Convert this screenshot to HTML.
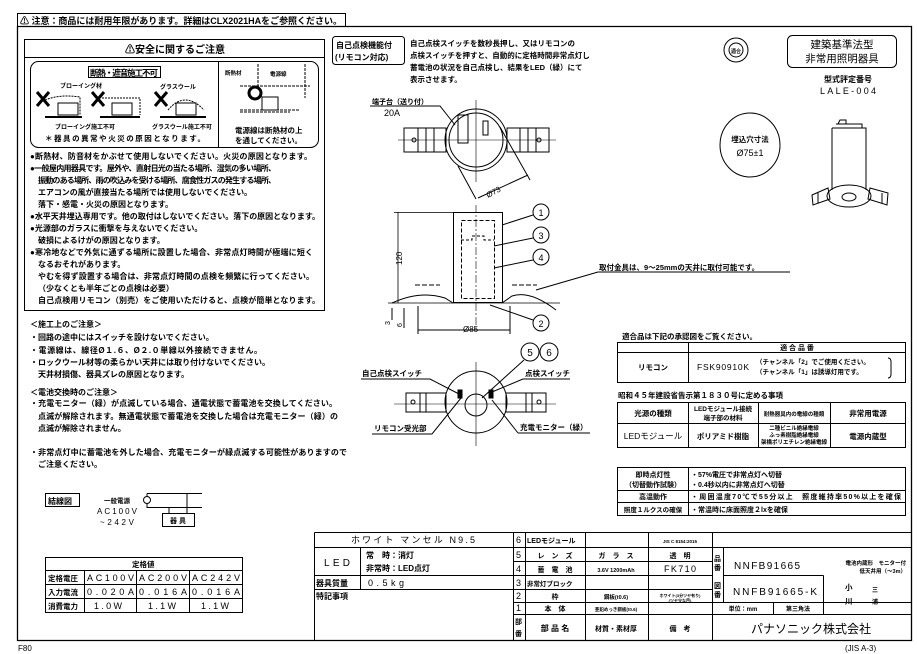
<!DOCTYPE html>
<html><head><meta charset="utf-8"><style>
html,body{margin:0;padding:0;background:#fff;width:917px;height:654px;overflow:hidden}
svg{display:block}
text{font-family:"Liberation Sans","Noto Sans CJK JP",sans-serif;fill:#000;font-weight:bold}
.n{font-weight:normal}
</style></head><body>
<svg width="917" height="654" viewBox="0 0 917 654" xmlns="http://www.w3.org/2000/svg" fill="none" stroke="#000" stroke-width="1">
<!-- frame -->
<rect x="17.5" y="13.5" width="328" height="13"/>
<path d="M17.5 26.5 H911.5 V640.5 H17.5 Z" stroke-width="1.3"/>
<text x="20" y="24" font-size="9" stroke="none" textLength="322">⚠ 注意：商品には耐用年限があります。詳細はCLX2021HAをご参照ください。</text>

<!-- safety box -->
<rect x="24.5" y="39.5" width="300" height="271"/>
<line x1="24.5" y1="57.5" x2="324.5" y2="57.5"/>
<text x="125" y="53" font-size="10" stroke="none">⚠安全に関するご注意</text>
<rect x="30.5" y="61.5" width="288" height="86" rx="8"/>
<line x1="218.5" y1="61.5" x2="218.5" y2="147.5"/>
<rect x="88.5" y="66.5" width="72" height="11" fill="#fff"/>
<text x="90" y="76" font-size="8.5" stroke="none" textLength="68">断熱・遮音施工不可</text>
<text x="60" y="88" font-size="6" stroke="none">ブローイング材</text>
<text x="160" y="89" font-size="6" stroke="none">グラスウール</text>
<g stroke-width="3"><path d="M37 92 L49 106 M49 92 L37 106"/><path d="M92 92 L104 106 M104 92 L92 106"/><path d="M155 92 L167 106 M167 92 L155 106"/></g>
<rect x="58" y="103" width="20" height="12"/><rect x="112" y="103" width="20" height="12"/><rect x="176" y="103" width="20" height="12"/>
<path d="M45 100 Q60 94 80 97 L80 115 M102 98 H140 V115 M168 110 Q185 90 204 110" stroke-dasharray="2 1"/>
<line x1="45" y1="117" x2="82" y2="117" stroke-width="2"/><line x1="100" y1="117" x2="140" y2="117" stroke-width="2"/><line x1="160" y1="117" x2="206" y2="117" stroke-width="2"/>
<text x="55" y="129" font-size="6" stroke="none">ブローイング施工不可</text>
<text x="152" y="129" font-size="6" stroke="none">グラスウール施工不可</text>
<text x="45" y="141" font-size="7.5" stroke="none" textLength="160">＊器具の異常や火災の原因となります。</text>
<text x="225" y="75" font-size="5.5" stroke="none">断熱材</text><text x="270" y="76" font-size="5.5" stroke="none">電源線</text>
<circle cx="255" cy="93" r="6" stroke-width="3"/>
<rect x="262" y="97" width="16" height="13"/>
<path d="M240 86 H310 M240 110 H300 M305 64 V98 M258 64 V86 M240 112 H290" stroke-dasharray="3 1"/>
<text x="235" y="133" font-size="7.5" stroke="none">電源線は断熱材の上</text>
<text x="235" y="143" font-size="7.5" stroke="none">を通してください。</text>
<g font-size="8" stroke="none">
<text x="30" y="159" textLength="282">●断熱材、防音材をかぶせて使用しないでください。火災の原因となります。</text>
<text x="30" y="171" textLength="246">●一般屋内用器具です。屋外や、直射日光の当たる場所、湿気の多い場所、</text>
<text x="38" y="183" textLength="238">振動のある場所、雨の吹込みを受ける場所、腐食性ガスの発生する場所、</text>
<text x="38" y="195" textLength="214">エアコンの風が直接当たる場所では使用しないでください。</text>
<text x="38" y="207">落下・感電・火災の原因となります。</text>
<text x="30" y="219" textLength="290">●水平天井埋込専用です。他の取付はしないでください。落下の原因となります。</text>
<text x="30" y="231">●光源部のガラスに衝撃を与えないでください。</text>
<text x="38" y="243">破損によるけがの原因となります。</text>
<text x="30" y="255" textLength="283">●寒冷地などで外気に通ずる場所に設置した場合、非常点灯時間が極端に短く</text>
<text x="38" y="267">なるおそれがあります。</text>
<text x="38" y="279" textLength="276">やむを得ず設置する場合は、非常点灯時間の点検を頻繁に行ってください。</text>
<text x="38" y="291">（少なくとも半年ごとの点検は必要）</text>
<text x="38" y="303" textLength="282">自己点検用リモコン（別売）をご使用いただけると、点検が簡単となります。</text>
</g>
<!-- construction notes -->
<g font-size="8" stroke="none">
<text x="30" y="327">＜施工上のご注意＞</text>
<text x="30" y="340">・回路の途中にはスイッチを設けないでください。</text>
<text x="30" y="353" textLength="232">・電源線は、線径Ø１.６、Ø２.０単線以外接続できません。</text>
<text x="30" y="365" textLength="240">・ロックウール材等の柔らかい天井には取り付けないでください。</text>
<text x="38" y="377">天井材損傷、器具ズレの原因となります。</text>
<text x="30" y="395">＜電池交換時のご注意＞</text>
<text x="30" y="406" textLength="307">・充電モニター（緑）が点滅している場合、通電状態で蓄電池を交換してください。</text>
<text x="38" y="419" textLength="300">点滅が解除されます。無通電状態で蓄電池を交換した場合は充電モニター（緑）の</text>
<text x="38" y="431">点滅が解除されません。</text>
<text x="30" y="455" textLength="317">・非常点灯中に蓄電池を外した場合、充電モニターが緑点滅する可能性がありますので</text>
<text x="38" y="467">ご注意ください。</text>
</g>
<!-- wiring -->
<rect x="45.5" y="493.5" width="34" height="13"/>
<text x="48" y="504" font-size="8" stroke="none">結線図</text>
<text x="104" y="503" font-size="6.5" stroke="none">一般電源</text>
<text x="97" y="514" font-size="8" stroke="none" class="n" textLength="40">AC100V</text>
<text x="100" y="525" font-size="8" stroke="none" class="n" textLength="34">~242V</text>
<circle cx="147" cy="500" r="3.5"/>
<path d="M147 493.5 H202 M147 497 V493.5 M147 503 V507.5 H202 M187 493.5 V513 M169 507.5 V513"/>
<rect x="162.5" y="513.5" width="32" height="13"/>
<text x="170" y="523" font-size="7" stroke="none">器 具</text>
<!-- rated table -->
<rect x="45.5" y="557.5" width="197" height="55"/>
<path d="M45.5 570.5 H242.5 M45.5 584.5 H242.5 M45.5 598.5 H242.5 M84.5 570.5 V612.5 M136.5 570.5 V612.5 M189.5 570.5 V612.5"/>
<g font-size="7.5" stroke="none"><text x="132" y="567">定格値</text>
<text x="48" y="581">定格電圧</text><text x="48" y="595">入力電流</text><text x="48" y="609">消費電力</text></g>
<g font-size="9" stroke="none" class="n">
<text x="87" y="581" class="n" textLength="47">AC100V</text><text x="139" y="581" class="n" textLength="48">AC200V</text><text x="192" y="581" class="n" textLength="48">AC242V</text>
<text x="87" y="595" class="n" textLength="47">0.020A</text><text x="139" y="595" class="n" textLength="48">0.016A</text><text x="192" y="595" class="n" textLength="48">0.016A</text>
<text x="94" y="609" class="n" textLength="28">1.0W</text><text x="148" y="609" class="n" textLength="28">1.1W</text><text x="201" y="609" class="n" textLength="28">1.1W</text></g>

<!-- self-check box -->
<rect x="332.5" y="36.5" width="72" height="28" rx="3"/>
<text x="336" y="48" font-size="8" stroke="none">自己点検機能付</text>
<text x="335" y="60" font-size="8" stroke="none">(リモコン対応)</text>
<g font-size="7.5" stroke="none">
<text x="410" y="46">自己点検スイッチを数秒長押し、又はリモコンの</text>
<text x="410" y="58">点検スイッチを押すと、自動的に定格時間非常点灯し</text>
<text x="410" y="70">蓄電池の状況を自己点検し、結果をLED（緑）にて</text>
<text x="410" y="82">表示させます。</text></g>
<circle cx="736" cy="50" r="12"/><circle cx="736" cy="50" r="7"/>
<text x="731" y="53" font-size="5" stroke="none">適合</text>
<rect x="787.5" y="35.5" width="109" height="32" rx="5"/>
<text x="842" y="48" font-size="10.5" stroke="none" text-anchor="middle" class="n">建築基準法型</text>
<text x="842" y="62" font-size="10.5" stroke="none" text-anchor="middle" class="n">非常用照明器具</text>
<text x="848" y="82" font-size="8" stroke="none" text-anchor="middle">型式評定番号</text>
<text x="848" y="94" font-size="9" stroke="none" text-anchor="middle" class="n" textLength="56">LALE-004</text>
<ellipse cx="750" cy="145" rx="30" ry="32"/>
<text x="750" y="142" font-size="7.5" stroke="none" text-anchor="middle">埋込穴寸法</text>
<text x="750" y="156" font-size="9" stroke="none" text-anchor="middle" class="n">Ø75±1</text>
<!-- product sketch -->
<path d="M832 128 H866 V190 M832 128 V190 M836 124 H862 V128 M838 124 L840 120 H846 V124"/>
<ellipse cx="849" cy="196" rx="22" ry="11"/><ellipse cx="849" cy="197" rx="7" ry="4"/>
<path d="M812 195 L828 188 L830 199 L813 205 Z M870 188 L888 193 L887 205 L868 199 Z M818 193 V203 M882 193 V203"/>

<!-- top view -->
<text x="372" y="104" font-size="7" stroke="none">端子台（送り付）</text>
<text x="384" y="116" font-size="9" stroke="none" class="n">20A</text>
<path d="M370 106 H440 L455 125"/>
<circle cx="476" cy="140" r="31"/><circle cx="476" cy="140" r="27"/>
<path d="M404 128 H446 V152 H404 Z M507 128 H549 V152 H507 Z M418 128 V152 M426 128 V152 M434 128 V152 M520 128 V152 M528 128 V152 M536 128 V152"/>
<circle cx="414" cy="140" r="2"/><circle cx="539" cy="140" r="2"/>
<path d="M398 140 H556 M476 100 V182" stroke-width="0.6"/>
<rect x="458" y="115" width="10" height="28"/><rect x="483" y="121" width="5" height="14"/>
<path d="M458 166 L476 199 M500 127 L530 180 M478 198 L528 175"/>
<text x="488" y="198" font-size="8" stroke="none" class="n" transform="rotate(-28 488 198)">Ø73</text>

<!-- side view -->
<rect x="453.5" y="212.5" width="49" height="90"/>
<rect x="461.5" y="220.5" width="33" height="78" stroke-dasharray="4 2"/>
<path d="M461 240 H472 V236 H484 V240 H494" stroke-dasharray="3 2"/>
<path d="M476 205 V330" stroke-width="0.6" stroke-dasharray="8 2 2 2"/>
<path d="M394 212.5 H453 M394 303 H530 M398 212 V303 M388 303 H560" stroke-width="0.8"/>
<path d="M392 303 Q420 290 445 298 L453 303 M502 303 L512 296 Q530 290 556 310" />
<path d="M415 285 H440 M512 285 H537" stroke-dasharray="5 2"/>
<text x="402" y="265" font-size="8" stroke="none" class="n" transform="rotate(-90 402 265)">120</text>
<path d="M392 308 V320 M404 308 V328 M418 306 V334 M510 306 V334 M418 330 H510"/>
<text x="390" y="325" font-size="7" stroke="none" class="n" transform="rotate(-90 390 325)">3</text>
<text x="402" y="327" font-size="7" stroke="none" class="n" transform="rotate(-90 402 327)">6</text>
<text x="463" y="332" font-size="8" stroke="none" class="n">Ø85</text>
<g><circle cx="541" cy="212" r="8"/><circle cx="541" cy="235" r="8"/><circle cx="541" cy="257" r="8"/><circle cx="541" cy="323" r="8"/></g>
<g font-size="9" stroke="none" text-anchor="middle" class="n"><text x="541" y="216" class="n">1</text><text x="541" y="239" class="n">3</text><text x="541" y="261" class="n">4</text><text x="541" y="327" class="n">2</text></g>
<path d="M533 215 L502 225 M533 238 L494 246 M533 260 L494 268 M533 320 L490 305"/>
<text x="599" y="270" font-size="7.5" stroke="none">取付金具は、9～25mmの天井に取付可能です。</text>
<path d="M598 272 H790 M598 272 L536 290"/>

<!-- bottom view -->
<circle cx="476" cy="402" r="31"/><circle cx="476" cy="405" r="11"/>
<path d="M406 393 H446 V412 H406 Z M506 393 H546 V412 H506 Z M420 393 V412 M426 393 V412 M526 393 V412 M532 393 V412"/>
<circle cx="413" cy="402" r="2"/><circle cx="539" cy="402" r="2"/>
<path d="M394 404 H556 M476 362 V446" stroke-width="0.6"/>
<rect x="458" y="390" width="4" height="8" fill="#000"/><rect x="489" y="390" width="4" height="8" fill="#000"/>
<circle cx="530" cy="352" r="9"/><circle cx="549" cy="352" r="9"/>
<text x="530" y="356" font-size="10" stroke="none" text-anchor="middle" class="n">5</text>
<text x="549" y="356" font-size="10" stroke="none" text-anchor="middle" class="n">6</text>
<path d="M524 360 L482 398"/>
<text x="362" y="376" font-size="7.5" stroke="none">自己点検スイッチ</text>
<path d="M361 379 H430 L459 394"/>
<text x="525" y="376" font-size="7.5" stroke="none">点検スイッチ</text>
<path d="M523 379 H570 M523 379 L492 392"/>
<text x="374" y="431" font-size="7.5" stroke="none">リモコン受光部</text>
<path d="M372 434 H432 L461 398"/>
<text x="520" y="430" font-size="7.5" stroke="none">充電モニター（緑）</text>
<path d="M518 433 H590 M518 433 L492 400"/>

<!-- right tables -->
<text x="622" y="339" font-size="7.5" stroke="none">適合品は下記の承認図をご覧ください。</text>
<rect x="617.5" y="342.5" width="288" height="40"/>
<path d="M617.5 352.5 H905.5 M688.5 342.5 V382.5"/>
<text x="797" y="350" font-size="7" stroke="none" text-anchor="middle">適 合 品 番</text>
<text x="638" y="370" font-size="7.5" stroke="none">リモコン</text>
<text x="697" y="370" font-size="8.5" stroke="none" class="n" textLength="52">FSK90910K</text>
<text x="756" y="364" font-size="6.5" stroke="none">（チャンネル「2」でご使用ください。</text>
<text x="756" y="374" font-size="6.5" stroke="none">（チャンネル「1」は誘導灯用です。</text>
<path d="M888 358 Q891 358 891 362 V374 Q891 378 888 378"/>
<text x="618" y="398" font-size="7.5" stroke="none">昭和４５年建設省告示第１８３０号に定める事項</text>
<rect x="617.5" y="402.5" width="288" height="45"/>
<path d="M617.5 423.5 H905.5 M688.5 402.5 V447.5 M758.5 402.5 V447.5 M830.5 402.5 V447.5"/>
<g font-size="7.5" stroke="none" text-anchor="middle">
<text x="653" y="416">光源の種類</text><text x="723" y="411" font-size="6.5">LEDモジュール接続</text><text x="723" y="420" font-size="6.5">端子部の材料</text>
<text x="794" y="416" font-size="5.5">耐熱器具内の電線の種類</text><text x="868" y="416">非常用電源</text>
<text x="653" y="439" class="n" font-size="8.5">LEDモジュール</text><text x="723" y="439">ポリアミド樹脂</text>
<text x="794" y="430" font-size="5.5">二種ビニル絶縁電線</text><text x="794" y="437" font-size="5.5">ふっ素樹脂絶縁電線</text><text x="794" y="444" font-size="5.5">架橋ポリエチレン絶縁電線</text>
<text x="868" y="439">電源内蔵型</text></g>
<rect x="617.5" y="467.5" width="288" height="48"/>
<path d="M617.5 490.5 H905.5 M617.5 502.5 H905.5 M688.5 467.5 V515.5"/>
<g font-size="7" stroke="none">
<text x="653" y="477" text-anchor="middle">即時点灯性</text><text x="653" y="487" text-anchor="middle">（切替動作試験）</text>
<text x="691" y="477">・57%電圧で非常点灯へ切替</text><text x="691" y="487">・0.4秒以内に非常点灯へ切替</text>
<text x="653" y="499" text-anchor="middle">高温動作</text><text x="691" y="499" textLength="210">・周囲温度70℃で55分以上　照度維持率50%以上を確保</text>
<text x="653" y="512" text-anchor="middle" font-size="6.5">照度１ルクスの確保</text><text x="691" y="512">・常温時に床面照度２lxを確保</text></g>

<!-- title block -->
<path d="M314.5 532.5 H911.5 M314.5 532.5 V640.5"/>
<path d="M314.5 547.5 H712.5 M314.5 575.5 H513.5 M314.5 589.5 H513.5 M513.5 561.5 H712.5 M513.5 575.5 H712.5 M513.5 589.5 H712.5 M513.5 602.5 H712.5 M513.5 614.5 H911.5 M712.5 547.5 H911.5 M712.5 602.5 H911.5 M723.5 575.5 H823.5"/>
<path d="M360.5 547.5 V589.5 M513.5 532.5 V640.5 M525.5 532.5 V640.5 M585.5 532.5 V640.5 M648.5 532.5 V640.5 M712.5 532.5 V640.5 M723.5 547.5 V602.5 M823.5 575.5 V614.5 M773.5 602.5 V614.5"/>
<g font-size="8" stroke="none">
<text x="413" y="543" text-anchor="middle" class="n" font-size="9" textLength="124">ホワイト マンセル N9.5</text>
<text x="337" y="566" text-anchor="middle" class="n" font-size="10" textLength="26">LED</text>
<text x="366" y="558">常　時：消灯</text><text x="366" y="571">非常時：LED点灯</text>
<text x="316" y="586">器具質量</text><text x="368" y="586" class="n" font-size="9" textLength="36">0.5kg</text>
<text x="316" y="599">特記事項</text>
<g class="n" font-size="9"><text x="516" y="543" class="n">6</text><text x="516" y="558" class="n">5</text><text x="516" y="572" class="n">4</text><text x="516" y="586" class="n">3</text><text x="516" y="599" class="n">2</text><text x="516" y="611" class="n">1</text></g>
<text x="515" y="624" font-size="7">部</text><text x="515" y="636" font-size="7">番</text>
<text x="527" y="543" font-size="7">LEDモジュール</text>
<text x="555" y="558" text-anchor="middle" font-size="7">レ　ン　ズ</text>
<text x="555" y="572" text-anchor="middle" font-size="7">蓄　電　池</text>
<text x="527" y="586" font-size="6.5">非常灯ブロック</text>
<text x="555" y="599" text-anchor="middle" font-size="7">枠</text>
<text x="555" y="611" text-anchor="middle" font-size="7">本　体</text>
<text x="555" y="631" text-anchor="middle">部 品 名</text>
<text x="616" y="558" text-anchor="middle" font-size="7">ガ　ラ　ス</text>
<text x="616" y="572" text-anchor="middle" font-size="5.5">3.6V 1200mAh</text>
<text x="616" y="599" text-anchor="middle" font-size="5.5">鋼板(t0.6)</text>
<text x="616" y="611" text-anchor="middle" font-size="4.5">亜鉛めっき鋼板(t0.6)</text>
<text x="616" y="631" text-anchor="middle" font-size="7">材質・素材厚</text>
<text x="680" y="543" text-anchor="middle" font-size="4.5">JIS C 8154:2015</text>
<text x="680" y="558" text-anchor="middle" font-size="7">透　明</text>
<text x="680" y="572" text-anchor="middle" class="n" font-size="9" textLength="32">FK710</text>
<text x="680" y="597" text-anchor="middle" font-size="4">ホワイト(3分ツヤ有り)</text>
<text x="680" y="602" text-anchor="middle" font-size="4">(ツヤ少な目)</text>
<text x="680" y="631" text-anchor="middle" font-size="7">備　考</text>
<text x="714" y="561" font-size="7">品</text><text x="714" y="570" font-size="7">番</text>
<text x="714" y="588" font-size="7">図</text><text x="714" y="597" font-size="7">番</text>
<text x="734" y="569" class="n" font-size="10" textLength="66">NNFB91665</text>
<text x="906" y="565" text-anchor="end" font-size="5.5">電池内蔵形　モニター付</text>
<text x="906" y="573" text-anchor="end" font-size="5.5">低天井用（～3m）</text>
<text x="733" y="595" class="n" font-size="10" textLength="84">NNFB91665-K</text>
<text x="845" y="590" font-size="7.5">小</text><text x="872" y="592" font-size="6">三</text>
<text x="845" y="604" font-size="7.5">川</text><text x="872" y="604" font-size="6">浦</text>
<text x="743" y="611" text-anchor="middle" font-size="6">単位：mm</text>
<text x="798" y="611" text-anchor="middle" font-size="6">第三角法</text>
<text x="811" y="633" text-anchor="middle" class="n" font-size="12">パナソニック株式会社</text>
</g>
<text x="18" y="651" font-size="8" stroke="none" class="n">F80</text>
<text x="845" y="651" font-size="8" stroke="none" class="n">(JIS A-3)</text>
</svg>
</body></html>
